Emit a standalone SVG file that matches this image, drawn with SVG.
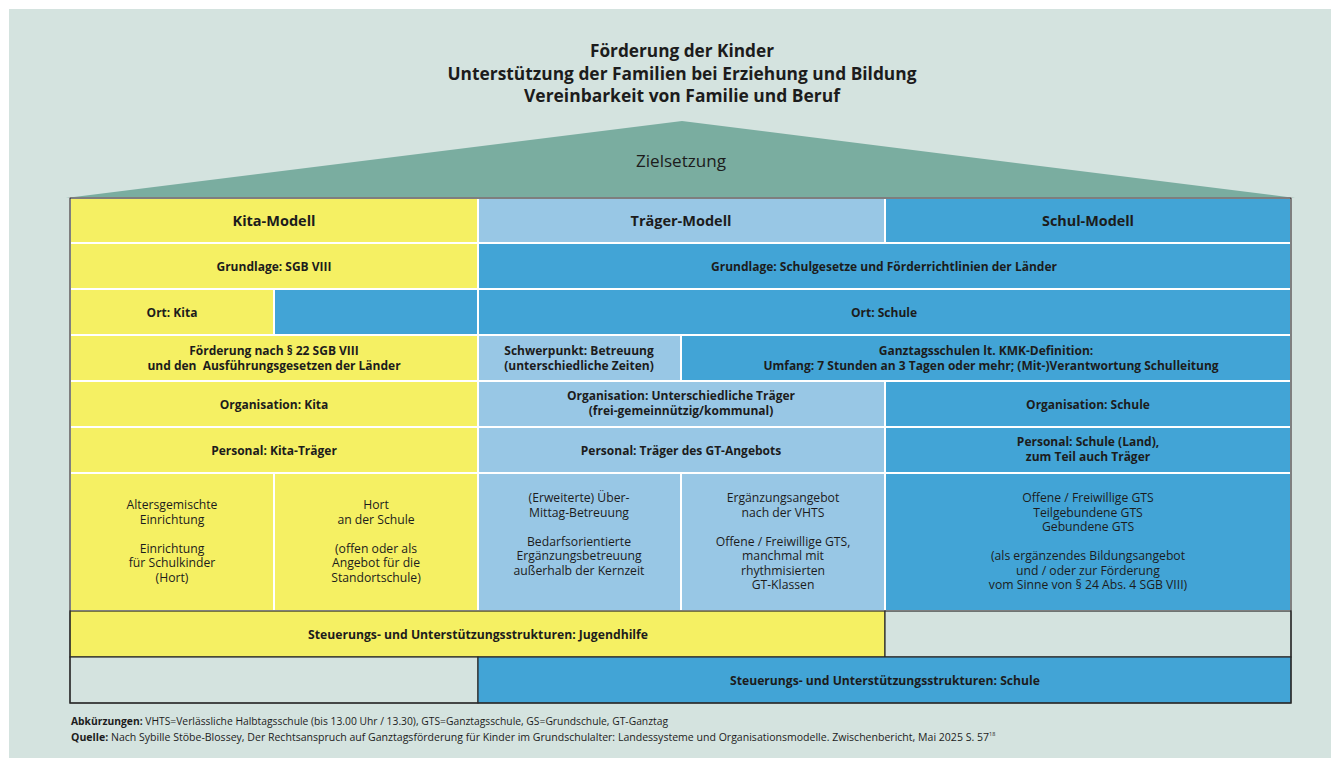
<svg xmlns="http://www.w3.org/2000/svg" width="1341" height="758" viewBox="0 0 1341 758">
<style>
.y{fill:#f5f063;stroke:#fff;stroke-width:2}
.lb{fill:#98c7e5;stroke:#fff;stroke-width:2}
.mb{fill:#42a4d6;stroke:#fff;stroke-width:2}
.b{font-family:"Open Sans","Noto Sans",sans-serif;font-weight:bold;font-size:12px;fill:#1c1c1c;text-anchor:middle}
.r{font-family:"Open Sans","Noto Sans",sans-serif;font-size:12.2px;fill:#1c1c1c;text-anchor:middle}
.h{font-family:"Open Sans","Noto Sans",sans-serif;font-weight:bold;font-size:15px;fill:#1c1c1c;text-anchor:middle}
.t{font-family:"Open Sans","Noto Sans",sans-serif;font-weight:bold;font-size:17px;fill:#1c1c1c;text-anchor:middle}
.f{font-family:"Open Sans","Noto Sans",sans-serif;font-size:10px;fill:#1c1c1c}
</style>
<rect x="0" y="0" width="1341" height="758" fill="#fff"/>
<rect x="9" y="9" width="1322" height="749" fill="#d4e3df"/>
<g id="title">
<text class="t" x="682" y="57" textLength="184" lengthAdjust="spacingAndGlyphs">Förderung der Kinder</text>
<text class="t" x="682" y="80" textLength="469" lengthAdjust="spacingAndGlyphs">Unterstützung der Familien bei Erziehung und Bildung</text>
<text class="t" x="682" y="102" textLength="316" lengthAdjust="spacingAndGlyphs">Vereinbarkeit von Familie und Beruf</text>
</g>
<g id="roof">
<polygon points="66,198 682,121 1295,198" fill="#7aada0"/>
<text x="681" y="167" font-family="Open Sans, sans-serif" font-size="16" fill="#1c1c1c" text-anchor="middle" textLength="90" lengthAdjust="spacingAndGlyphs">Zielsetzung</text>
</g>
<g id="header">
<rect class="y" x="70" y="198" width="408" height="45"/>
<text class="h" x="274" y="226" textLength="83" lengthAdjust="spacingAndGlyphs">Kita-Modell</text>
<rect class="lb" x="478" y="198" width="407" height="45"/>
<text class="h" x="681" y="226" textLength="101" lengthAdjust="spacingAndGlyphs">Träger-Modell</text>
<rect class="mb" x="885" y="198" width="406" height="45"/>
<text class="h" x="1088" y="226" textLength="92" lengthAdjust="spacingAndGlyphs">Schul-Modell</text>
</g>
<g id="grundlage">
<rect class="y" x="70" y="243" width="408" height="46"/>
<text class="b" x="274" y="271">Grundlage: SGB VIII</text>
<rect class="mb" x="478" y="243" width="813" height="46"/>
<text class="b" x="884" y="271">Grundlage: Schulgesetze und Förderrichtlinien der Länder</text>
</g>
<g id="ort">
<rect class="y" x="70" y="289" width="204" height="46"/>
<text class="b" x="172" y="317">Ort: Kita</text>
<rect class="mb" x="274" y="289" width="204" height="46"/>
<rect class="mb" x="478" y="289" width="813" height="46"/>
<text class="b" x="884" y="317">Ort: Schule</text>
</g>
<g id="foerderung">
<rect class="y" x="70" y="335" width="408" height="46"/>
<text class="b" x="274" y="355">Förderung nach § 22 SGB VIII</text>
<text class="b" x="274" y="370" xml:space="preserve">und den  Ausführungsgesetzen der Länder</text>
<rect class="lb" x="478" y="335" width="203" height="46"/>
<text class="b" x="579" y="355">Schwerpunkt: Betreuung</text>
<text class="b" x="579" y="370">(unterschiedliche Zeiten)</text>
<rect class="mb" x="681" y="335" width="610" height="46"/>
<text class="b" x="986" y="355">Ganztagsschulen lt. KMK-Definition:</text>
<text class="b" x="991" y="370">Umfang: 7 Stunden an 3 Tagen oder mehr; (Mit-)Verantwortung Schulleitung</text>
</g>
<g id="organisation">
<rect class="y" x="70" y="381" width="408" height="46"/>
<text class="b" x="274" y="409">Organisation: Kita</text>
<rect class="lb" x="478" y="381" width="407" height="46"/>
<text class="b" x="681" y="400">Organisation: Unterschiedliche Träger</text>
<text class="b" x="681" y="415">(frei-gemeinnützig/kommunal)</text>
<rect class="mb" x="885" y="381" width="406" height="46"/>
<text class="b" x="1088" y="409">Organisation: Schule</text>
</g>
<g id="personal">
<rect class="y" x="70" y="427" width="408" height="46"/>
<text class="b" x="274" y="455">Personal: Kita-Träger</text>
<rect class="lb" x="478" y="427" width="407" height="46"/>
<text class="b" x="681" y="455">Personal: Träger des GT-Angebots</text>
<rect class="mb" x="885" y="427" width="406" height="46"/>
<text class="b" x="1088" y="446">Personal: Schule (Land),</text>
<text class="b" x="1088" y="461">zum Teil auch Träger</text>
</g>
<g id="angebote">
<rect class="y" x="70" y="473" width="204" height="138"/>
<text class="r" x="172" y="509">Altersgemischte</text>
<text class="r" x="172" y="523.5">Einrichtung</text>
<text class="r" x="172" y="552.5">Einrichtung</text>
<text class="r" x="172" y="567">für Schulkinder</text>
<text class="r" x="172" y="581.5">(Hort)</text>
<rect class="y" x="274" y="473" width="204" height="138"/>
<text class="r" x="376" y="509">Hort</text>
<text class="r" x="376" y="523.5">an der Schule</text>
<text class="r" x="376" y="552.5">(offen oder als</text>
<text class="r" x="376" y="567">Angebot für die</text>
<text class="r" x="376" y="581.5">Standortschule)</text>
<rect class="lb" x="478" y="473" width="203" height="138"/>
<text class="r" x="579" y="502">(Erweiterte) Über-</text>
<text class="r" x="579" y="516.5">Mittag-Betreuung</text>
<text class="r" x="579" y="545.5">Bedarfsorientierte</text>
<text class="r" x="579" y="560">Ergänzungsbetreuung</text>
<text class="r" x="579" y="574.5">außerhalb der Kernzeit</text>
<rect class="lb" x="681" y="473" width="204" height="138"/>
<text class="r" x="783" y="502">Ergänzungsangebot</text>
<text class="r" x="783" y="516.5">nach der VHTS</text>
<text class="r" x="783" y="545.5">Offene / Freiwillige GTS,</text>
<text class="r" x="783" y="560">manchmal mit</text>
<text class="r" x="783" y="574.5">rhythmisierten</text>
<text class="r" x="783" y="589">GT-Klassen</text>
<rect class="mb" x="885" y="473" width="406" height="138"/>
<text class="r" x="1088" y="502">Offene / Freiwillige GTS</text>
<text class="r" x="1088" y="516.5">Teilgebundene GTS</text>
<text class="r" x="1088" y="531">Gebundene GTS</text>
<text class="r" x="1088" y="560">(als ergänzendes Bildungsangebot</text>
<text class="r" x="1088" y="574.5">und / oder zur Förderung</text>
<text class="r" x="1088" y="589">vom Sinne von § 24 Abs. 4 SGB VIII)</text>
</g>
<g id="steuerung-jugendhilfe">
<rect x="70" y="611" width="815" height="46" fill="#f5f063" stroke="#2a2a2a" stroke-width="1.2"/>
<text class="b" x="478" y="639" textLength="340" lengthAdjust="spacingAndGlyphs">Steuerungs- und Unterstützungsstrukturen: Jugendhilfe</text>
<rect x="885" y="611" width="406" height="46" fill="#d4e3df" stroke="#2a2a2a" stroke-width="1.2"/>
</g>
<g id="steuerung-schule">
<rect x="70" y="657" width="408" height="46" fill="#d4e3df" stroke="#2a2a2a" stroke-width="1.2"/>
<rect x="478" y="657" width="813" height="46" fill="#42a4d6" stroke="#2a2a2a" stroke-width="1.2"/>
<text class="b" x="885" y="685" textLength="310" lengthAdjust="spacingAndGlyphs">Steuerungs- und Unterstützungsstrukturen: Schule</text>
</g>
<rect id="frame" x="70" y="198" width="1221" height="505" fill="none" stroke="#2a2a2a" stroke-width="1.2"/>
<g id="footnotes">
<text class="f" x="71" y="725" textLength="597" lengthAdjust="spacingAndGlyphs"><tspan font-weight="bold">Abkürzungen:</tspan> VHTS=Verlässliche Halbtagsschule (bis 13.00 Uhr / 13.30), GTS=Ganztagsschule, GS=Grundschule, GT-Ganztag</text>
<text class="f" x="71" y="741" textLength="918" lengthAdjust="spacingAndGlyphs"><tspan font-weight="bold">Quelle:</tspan> Nach Sybille Stöbe-Blossey, Der Rechtsanspruch auf Ganztagsförderung für Kinder im Grundschulalter: Landessysteme und Organisationsmodelle. Zwischenbericht, Mai 2025 S. 57</text>
<text x="989" y="736" style="font-family:'Open Sans',sans-serif;font-size:5.5px;fill:#1c1c1c">18</text>
</g>
</svg>
